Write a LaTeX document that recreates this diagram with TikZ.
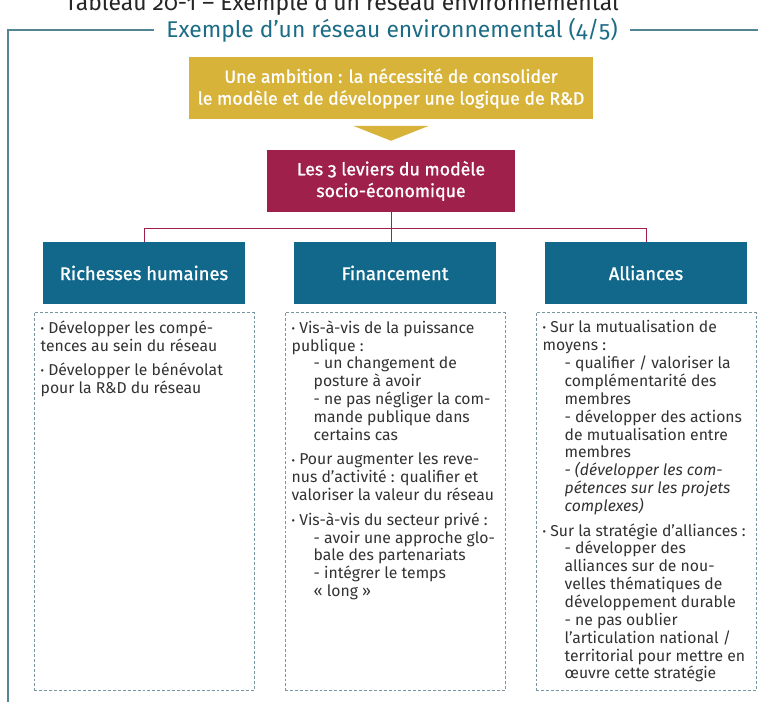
\documentclass[tikz,border=0pt]{standalone}
\usepackage{fontspec}
\setmainfont{Fira Sans}[Numbers=OldStyle]
\newfontfamily\grasfont{Fira Sans}[FakeBold=1.2,Numbers=OldStyle]
\usetikzlibrary{positioning,calc}
\definecolor{resJaune}{RGB}{216,179,58}
\definecolor{resBordeaux}{RGB}{158,32,75}
\definecolor{resBleu}{RGB}{17,104,139}
\definecolor{resTitre}{RGB}{28,108,133}
\definecolor{resCadre}{RGB}{84,133,148}
\definecolor{resTirets}{RGB}{120,150,162}
\definecolor{resTexte}{RGB}{50,50,50}
\newcommand{\puce}{\raisebox{.1ex}{\footnotesize\textbullet}\ }
\newcommand{\retrait}{\hspace*{16.5pt}}

\begin{document}
\begin{tikzpicture}[
    x=0.75pt, y=-0.75pt,
    bandeau/.style={fill=#1, text=white, align=center, inner sep=0pt, font=\grasfont\fontsize{13.3}{16.3}\selectfont},
    ambition/.style={bandeau=resJaune, minimum width=303pt, minimum height=46.5pt},
    leviers/.style={bandeau=resBordeaux, minimum width=186pt, minimum height=46.5pt},
    levier/.style={bandeau=resBleu, minimum width=151.5pt, minimum height=46.5pt, font=\grasfont\fontsize{13.8}{16}\selectfont},
    cadre/.style={draw=resTirets, dash pattern=on 2.2pt off 1.5pt, minimum width=165pt, minimum height=283.5pt, inner sep=0pt},
    liste/.style={align=left, inner sep=0pt, text=resTexte, font=\fontsize{11.8}{13.4}\selectfont},
    lien/.style={draw=resBordeaux, line width=0.75pt},
    bord/.style={draw=resCadre, line width=0.9pt}
  ]
  \useasboundingbox (0,0) rectangle (758,702);

  \node[anchor=base, font=\fontsize{17.2}{20}\selectfont, text=black!85] (tableau) at (342,11) {Tableau 20-1 – Exemple d’un réseau environnemental};

  \node[font=\fontsize{17.1}{20}\selectfont, text=resTitre, inner xsep=9pt] (titre) at (392,30) {Exemple d’un réseau environnemental (4/5)};
  \draw[bord] (titre.west) -- (8,30) -- (8,702);
  \draw[bord] (titre.east) -- (758,30);

  \node[ambition] (ambition) at (391,88.5) {Une ambition : la nécessité de consolider\\le modèle et de développer une logique de R\&D};
  \fill[resJaune] ($(ambition.south)+(-38,6)$) -- ($(ambition.south)+(38,6)$) -- ($(ambition.south)+(0,21)$) -- cycle;

  \node[leviers] (leviers) at (391,181) {Les 3 leviers du modèle\\socio-économique};

  \node[levier] (humaines) at (144,273) {Richesses humaines};
  \node[levier] (financement) at (395,273) {Financement};
  \node[levier] (alliances) at (646,273) {Alliances};

  \coordinate (fourche) at ($(leviers.south)+(0,16)$);
  \draw[lien] (leviers.south) -- (leviers.south |- financement.north);
  \draw[lien] (humaines.north) |- (fourche) -| (alliances.north);

  \node[cadre, below=6pt of humaines] (cadreH) {};
  \node[cadre, below=6pt of financement] (cadreF) {};
  \node[cadre, below=6pt of alliances] (cadreA) {};

  \node[liste, anchor=north west] (listeH) at ([xshift=5pt,yshift=-6pt]cadreH.north west) {%
    \puce Développer les compé-\\
    tences au sein du réseau\\[5pt]
    \puce Développer le bénévolat\\
    pour la R\&D du réseau};

  \node[liste, anchor=north west] (listeF) at ([xshift=5pt,yshift=-6pt]cadreF.north west) {%
    \puce Vis-à-vis de la puissance\\
    publique :\\
    \retrait - un changement de\\
    \retrait posture à avoir\\
    \retrait - ne pas négliger la com-\\
    \retrait mande publique dans\\
    \retrait certains cas\\[5pt]
    \puce Pour augmenter les reve-\\
    nus d’activité : qualifier et\\
    valoriser la valeur du réseau\\[5pt]
    \puce Vis-à-vis du secteur privé :\\
    \retrait - avoir une approche glo-\\
    \retrait bale des partenariats\\
    \retrait - intégrer le temps\\
    \retrait « long »};

  \node[liste, anchor=north west] (listeA) at ([xshift=5pt,yshift=-6pt]cadreA.north west) {%
    \puce Sur la mutualisation de\\
    moyens :\\
    \retrait - qualifier / valoriser la\\
    \retrait complémentarité des\\
    \retrait membres\\
    \retrait - développer des actions\\
    \retrait de mutualisation entre\\
    \retrait membres\\
    \retrait \textit{- (développer les com-}\\
    \retrait \textit{pétences sur les projets}\\
    \retrait \textit{complexes)}\\[5pt]
    \puce Sur la stratégie d’alliances :\\
    \retrait - développer des\\
    \retrait alliances sur de nou-\\
    \retrait velles thématiques de\\
    \retrait développement durable\\
    \retrait - ne pas oublier\\
    \retrait l’articulation national /\\
    \retrait territorial pour mettre en\\
    \retrait œuvre cette stratégie};
\end{tikzpicture}
\end{document}
